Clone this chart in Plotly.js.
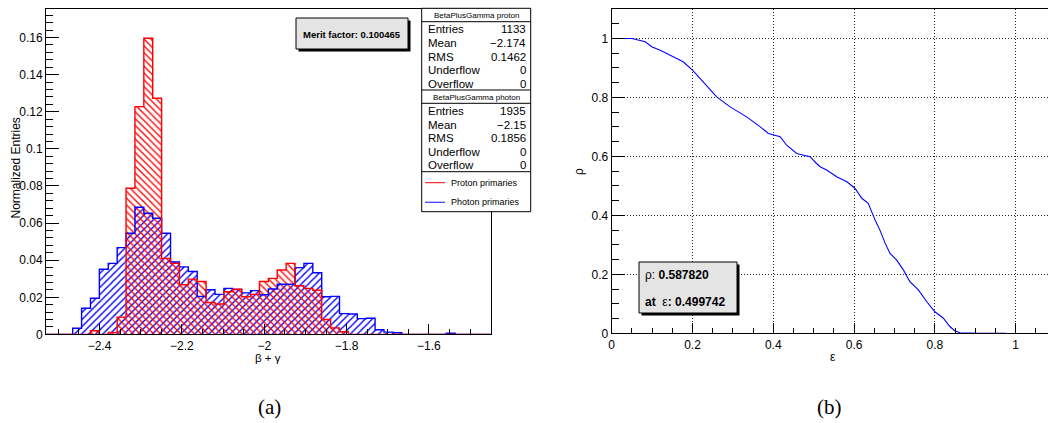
<!DOCTYPE html>
<html>
<head>
<meta charset="utf-8">
<script src="https://cdn.plot.ly/plotly-3.0.1.min.js"></script>
<style>
html,body{margin:0;padding:0;background:#fff;}
#chart{width:1048px;height:423px;}
</style>
</head>
<body>
<div id="chart"></div>
<script>
// ---------------- DATA ----------------
const binLow = -2.53;
const binWidth = 0.0216;
const protonVals = [
  0, 0, 0, 0, 0, 0.002, 0, 0.001, 0.0093, 0.0788,
  0.1228, 0.1596, 0.1273, 0.041, 0.0383, 0.0268, 0.0298, 0.0285, 0.0172, 0.0164,
  0.023, 0.0243, 0.0203, 0.0216, 0.0285, 0.0302, 0.0347, 0.0383, 0.0262, 0.0248,
  0.0238, 0.008, 0.0035, 0.0014, 0, 0, 0, 0, 0, 0,
  0, 0, 0, 0, 0, 0, 0, 0, 0, 0
];
const photonVals = [
  0, 0, 0, 0.0033, 0.0141, 0.0195, 0.0351, 0.0383, 0.0468, 0.0545,
  0.0685, 0.0653, 0.0626, 0.0545, 0.039, 0.0364, 0.0339, 0.0205, 0.0241, 0.0216,
  0.0248, 0.0242, 0.0224, 0.0236, 0.0214, 0.0245, 0.027, 0.027, 0.036, 0.0383,
  0.0332, 0.0203, 0.0205, 0.0112, 0.011, 0.0085, 0.0087, 0.0025, 0.0012, 0.0009,
  0, 0, 0, 0, 0, 0.0006, 0, 0, 0, 0
];
const protonStats = [["Entries","1133"],["Mean","\u22122.174"],["RMS","0.1462"],["Underflow","0"],["Overflow","0"]];
const photonStats = [["Entries","1935"],["Mean","\u22122.15"],["RMS","0.1856"],["Underflow","0"],["Overflow","0"]];
const protonTitle = "BetaPlusGamma proton";
const photonTitle = "BetaPlusGamma photon";
const legendLabels = ["Proton primaries","Photon primaries"];
const meritText = "Merit factor: 0.100465";

const effVals = [0, 0.05, 0.083, 0.099, 0.12, 0.153, 0.177, 0.2, 0.227, 0.26,
  0.293, 0.334, 0.367, 0.388, 0.417, 0.433, 0.458, 0.491, 0.507, 0.516,
  0.532, 0.557, 0.582, 0.602, 0.619, 0.635, 0.652, 0.664, 0.677, 0.689,
  0.705, 0.722, 0.738, 0.759, 0.78, 0.8, 0.821, 0.837, 0.85, 0.862, 0.903, 0.975];
const rhoVals = [1, 1, 0.989, 0.972, 0.96, 0.938, 0.921, 0.893, 0.853, 0.802,
  0.768, 0.734, 0.701, 0.678, 0.667, 0.638, 0.61, 0.599, 0.576, 0.565,
  0.554, 0.531, 0.514, 0.492, 0.458, 0.441, 0.384, 0.35, 0.305, 0.271,
  0.249, 0.215, 0.175, 0.147, 0.107, 0.073, 0.051, 0.023, 0.008, 0.002, 0, 0];
const rhoLabel = "\u03c1: <b>0.587820</b>";
const effLabel = "<b>at</b>  \u03b5<b>: 0.499742</b>";

// ---------------- BUILD ----------------
const W = 1048, H = 423;
const px = x => x / W;
const py = y => 1 - y / H;

const centers = protonVals.map((_, i) => binLow + binWidth * (i + 0.5));
function stepLine(vals) {
  const xs = [], ys = [];
  vals.forEach((v, i) => { xs.push(binLow + binWidth * i); ys.push(v); });
  xs.push(binLow + binWidth * vals.length); ys.push(vals[vals.length - 1]);
  return {xs, ys};
}
const sp = stepLine(photonVals), sr = stepLine(protonVals);

const traces = [
  {type:'bar', x:centers, y:photonVals, width:binWidth, xaxis:'x', yaxis:'y',
   marker:{color:'rgba(0,0,0,0)', line:{width:0},
     pattern:{shape:'/', fgcolor:'#0000ff', bgcolor:'rgba(0,0,0,0)', size:5, solidity:0.28, fillmode:'replace'}},
   hoverinfo:'skip'},
  {type:'bar', x:centers, y:protonVals, width:binWidth, xaxis:'x', yaxis:'y',
   marker:{color:'rgba(0,0,0,0)', line:{width:0},
     pattern:{shape:'\\', fgcolor:'#ff0000', bgcolor:'rgba(0,0,0,0)', size:4.8, solidity:0.28, fillmode:'replace'}},
   hoverinfo:'skip'},
  {type:'scatter', mode:'lines', x:sp.xs, y:sp.ys, line:{shape:'hv', color:'#0000ff', width:1.4}, xaxis:'x', yaxis:'y', hoverinfo:'skip'},
  {type:'scatter', mode:'lines', x:sr.xs, y:sr.ys, line:{shape:'hv', color:'#ff0000', width:1.4}, xaxis:'x', yaxis:'y', hoverinfo:'skip'},
  {type:'scatter', mode:'lines', x:effVals, y:rhoVals, line:{color:'#0000ff', width:1.1}, xaxis:'x2', yaxis:'y2', hoverinfo:'skip'}
];

const tickFont = {family:'Liberation Sans, Arial, sans-serif', size:12, color:'#000'};
const baseAxis = {showline:true, mirror:true, linecolor:'#000', linewidth:1, ticks:'inside',
  tickcolor:'#000', tickfont:tickFont, zeroline:false, fixedrange:true, automargin:false};

const layout = {
  width:W, height:H, margin:{l:0, r:0, t:0, b:0},
  paper_bgcolor:'#fff', plot_bgcolor:'#fff', showlegend:false, barmode:'overlay', bargap:0,
  font:{family:'Liberation Sans, Arial, sans-serif', color:'#000'},
  xaxis:Object.assign({}, baseAxis, {domain:[px(46), px(490.7)], range:[binLow, binLow + binWidth*protonVals.length],
    dtick:0.2, tick0:0, ticklen:10, showgrid:false, anchor:'y',
    minor:{dtick:0.05, ticklen:5, ticks:'inside', tickcolor:'#000', showgrid:false}}),
  yaxis:Object.assign({}, baseAxis, {domain:[py(334.4), py(9)], range:[0, 0.1754],
    dtick:0.02, tick0:0, ticklen:13, showgrid:false, anchor:'x',
    minor:{dtick:0.004, ticklen:7, ticks:'inside', tickcolor:'#000', showgrid:false}}),
  xaxis2:Object.assign({}, baseAxis, {domain:[px(611.7), 1], range:[0, 1.08],
    dtick:0.2, tick0:0, ticklen:10, showgrid:true, gridcolor:'#222', griddash:'1px,2px', gridwidth:1, anchor:'y2',
    minor:{dtick:0.05, ticklen:5, ticks:'inside', tickcolor:'#000', showgrid:false}}),
  yaxis2:Object.assign({}, baseAxis, {domain:[py(333.3), py(9)], range:[0, 1.1],
    dtick:0.2, tick0:0, ticklen:13, showgrid:true, gridcolor:'#222', griddash:'1px,2px', gridwidth:1, anchor:'x2',
    minor:{dtick:0.05, ticklen:7, ticks:'inside', tickcolor:'#000', showgrid:false}}),
  shapes:[], annotations:[]
};

function rect(x0, y0, x1, y1, fill, lineW) {
  layout.shapes.push({type:'rect', xref:'paper', yref:'paper', layer:'above',
    x0:px(x0), x1:px(x1), y0:py(y1), y1:py(y0), fillcolor:fill,
    line:{color:'#000', width:lineW}});
}
function hline(x0, x1, y, color, w) {
  layout.shapes.push({type:'line', xref:'paper', yref:'paper', layer:'above',
    x0:px(x0), x1:px(x1), y0:py(y), y1:py(y), line:{color:color, width:w}});
}
function text(t, x, y, size, xanchor, opts) {
  layout.annotations.push(Object.assign({text:t, xref:'paper', yref:'paper', x:px(x), y:py(y),
    xanchor:xanchor, yanchor:'middle', showarrow:false, borderpad:0,
    font:{family:'Liberation Sans, Arial, sans-serif', size:size, color:'#000'}}, opts || {}));
}

// merit factor box
rect(298.5, 20.5, 410.5, 51.5, '#000', 0);
rect(296, 18, 408, 49, '#e4e4e4', 1);
text('<b>' + meritText + '</b>', 352, 34, 9.5, 'center');

// stats box
rect(421.7, 8.3, 530.7, 211.7, '#fff', 1);
hline(421.7, 530.7, 21.7, '#000', 1);
hline(421.7, 530.7, 90, '#000', 1);
hline(421.7, 530.7, 103.3, '#000', 1);
hline(421.7, 530.7, 171.7, '#000', 1);
text(protonTitle, 476.2, 15, 8, 'center');
text(photonTitle, 476.2, 97, 8, 'center');
const rowStep = 13.6;
protonStats.forEach((r, i) => {
  text(r[0], 426.5, 29.3 + i*rowStep, 11.5, 'left');
  text(r[1], 527, 29.3 + i*rowStep, 11.5, 'right');
});
photonStats.forEach((r, i) => {
  text(r[0], 426.5, 111 + i*rowStep, 11.5, 'left');
  text(r[1], 527, 111 + i*rowStep, 11.5, 'right');
});
hline(425, 445, 182.7, '#ff0000', 1);
hline(425, 445, 202.3, '#3333ff', 1.2);
text(legendLabels[0], 449.5, 182.7, 9, 'left');
text(legendLabels[1], 449.5, 202.3, 9, 'left');

// right info box
rect(641.5, 264.5, 739.5, 315.5, '#000', 0);
rect(639, 262, 737, 313, '#e4e4e4', 1);
text(rhoLabel, 643.5, 274.5, 12, 'left');
text(effLabel, 643.5, 301.5, 12, 'left');

// axis titles
text('Normalized Entries', 15.5, 168, 12, 'center', {textangle:-90});
text('\u03b2 + \u03b3', 268, 357.5, 11.5, 'center');
text('\u03c1', 579, 172, 12, 'center', {textangle:-90});
text('\u03b5', 833, 357, 12, 'center');

// captions
const capFont = {family:'Liberation Serif, DejaVu Serif, serif', size:21, color:'#000'};
text('(a)', 269, 407, 21, 'center', {font:capFont});
text('(b)', 829, 407, 21, 'center', {font:capFont});

Plotly.newPlot('chart', traces, layout, {staticPlot:true, displayModeBar:false});
</script>
</body>
</html>
